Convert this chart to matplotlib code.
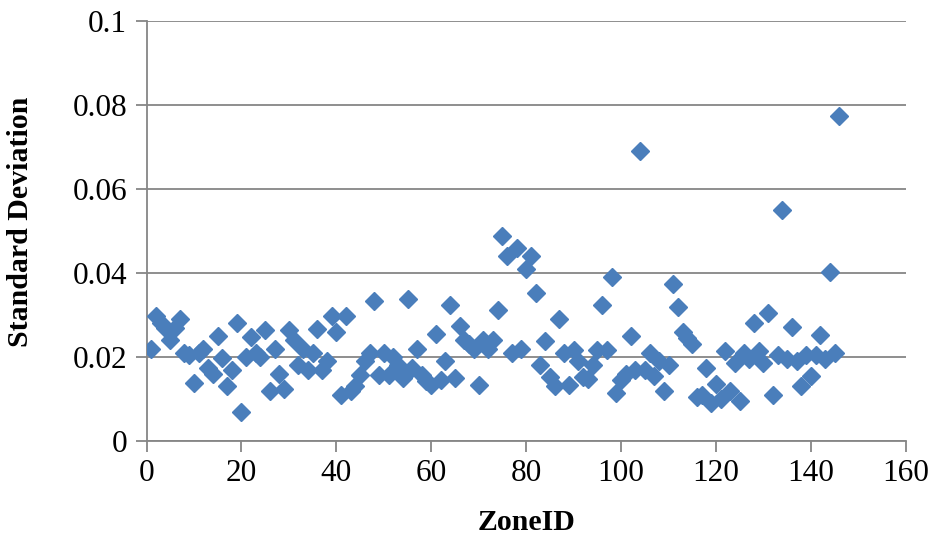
import matplotlib
matplotlib.use("Agg")
import matplotlib.pyplot as plt
import numpy as np

# standard deviation per zone
zone_id = np.arange(1, 147)
std_dev = [
    0.0219, 0.0298, 0.0280, 0.0270, 0.0240, 0.0270, 0.0290, 0.0210, 0.0205, 0.0137,
    0.0210, 0.0220, 0.0174, 0.0160, 0.0250, 0.0198, 0.0130, 0.0170, 0.0280, 0.0068,
    0.0200, 0.0248, 0.0210, 0.0200, 0.0265, 0.0120, 0.0220, 0.0160, 0.0125, 0.0265,
    0.0240, 0.0180, 0.0220, 0.0170, 0.0210, 0.0267, 0.0170, 0.0190, 0.0298, 0.0260,
    0.0110, 0.0298, 0.0120, 0.0130, 0.0157, 0.0190, 0.0210, 0.0333, 0.0157, 0.0210,
    0.0157, 0.0200, 0.0180, 0.0150, 0.0338, 0.0174, 0.0220, 0.0157, 0.0143, 0.0133,
    0.0255, 0.0145, 0.0190, 0.0324, 0.0150, 0.0274, 0.0240, 0.0230, 0.0220, 0.0133,
    0.0240, 0.0220, 0.0240, 0.0312, 0.0488, 0.0440, 0.0210, 0.0460, 0.0220, 0.0410,
    0.0440, 0.0352, 0.0180, 0.0238, 0.0152, 0.0130, 0.0290, 0.0210, 0.0133, 0.0217,
    0.0190, 0.0152, 0.0148, 0.0180, 0.0217, 0.0324, 0.0217, 0.0390, 0.0115, 0.0145,
    0.0160, 0.0250, 0.0170, 0.0690, 0.0170, 0.0210, 0.0155, 0.0190, 0.0120, 0.0180,
    0.0373, 0.0318, 0.0260, 0.0245, 0.0230, 0.0105, 0.0110, 0.0175, 0.0090, 0.0135,
    0.0100, 0.0215, 0.0120, 0.0185, 0.0095, 0.0210, 0.0195, 0.0280, 0.0215, 0.0185,
    0.0305, 0.0110, 0.0205, 0.0550, 0.0195, 0.0272, 0.0190, 0.0130, 0.0205, 0.0155,
    0.0205, 0.0252, 0.0195, 0.0402, 0.0210, 0.0775,
]

plt.rcParams['font.family'] = ['Liberation Serif', 'DejaVu Serif']

fig = plt.figure(figsize=(9.29, 5.44), dpi=100)
ax = fig.add_axes([0.1577, 0.1893, 0.8173, 0.7721])

ax.plot(zone_id, std_dev, linestyle='none', marker='D', markersize=9.4,
        color='#4a7ebb', markeredgecolor='#4a7ebb', zorder=3)

ax.set_xlim(0, 160)
ax.set_ylim(0, 0.1)
ax.set_xticks(np.arange(0, 161, 20))
ax.set_yticks([0, 0.02, 0.04, 0.06, 0.08, 0.1])
ax.set_yticklabels(['0', '0.02', '0.04', '0.06', '0.08', '0.1'])

gray = '#868686'
ax.grid(axis='y', color=gray, linewidth=1.3, zorder=0)
for side in ['top', 'right']:
    ax.spines[side].set_visible(False)
for side in ['left', 'bottom']:
    ax.spines[side].set_color(gray)
    ax.spines[side].set_linewidth(1.3)
ax.tick_params(axis='both', colors=gray, length=8, width=1.3, direction='out',
               labelsize=22.5, labelcolor='black')
ax.tick_params(axis='x', pad=5)
ax.tick_params(axis='y', pad=6)

ax.set_xlabel('ZoneID', fontsize=21.5, fontweight='bold')
ax.set_ylabel('Standard Deviation', fontsize=21.5, fontweight='bold')
ax.xaxis.set_label_coords(0.5, -0.163)
ax.yaxis.set_label_coords(-0.148, 0.521)

fig.savefig('out.png', dpi=100)
